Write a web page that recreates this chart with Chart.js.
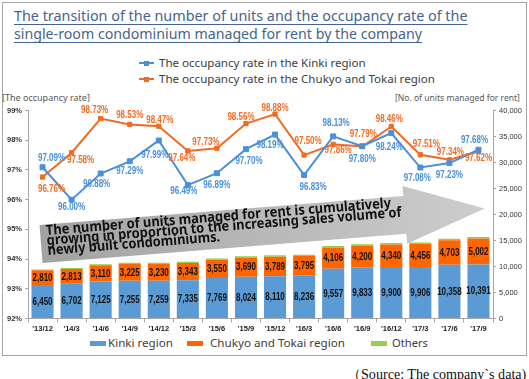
<!DOCTYPE html>
<html>
<head>
<meta charset="utf-8">
<script src="https://cdn.jsdelivr.net/npm/chart.js@4/dist/chart.umd.min.js"></script>
<style>
  body { margin: 0; width: 529px; height: 379px; position: relative; background: #fff; overflow: hidden; font-family: "Noto Sans", sans-serif; }
  .abs { position: absolute; white-space: nowrap; }
  .fit { display: inline-block; }
  #frame { position: absolute; left: 2px; top: 2px; width: 523px; height: 352px; border: 1.5px solid #a6a6a6; }
  .title { color: #46648f; font-size: 15px; line-height: 18px; }
  .title .fit { text-decoration: underline; text-decoration-thickness: 1px; text-underline-offset: 3px; }
  .leg { color: #404040; font-size: 11.5px; line-height: 14px; }
  .axt { color: #595959; font-size: 10px; }
  .sw { position: absolute; }
  #src { font-family: "Liberation Serif", "DejaVu Serif", serif; font-size: 12.5px; color: #111; }
  canvas { position: absolute; left: 0; top: 0; }
</style>
</head>
<body>
<div id="frame"></div>
<div class="abs title" style="left:14px;top:6px"><span class="fit" data-w="454">The transition of the number of units and the occupancy rate of the</span></div>
<div class="abs title" style="left:14px;top:24px"><span class="fit" data-w="408">single-room condominium managed for rent by the company</span></div>

<div class="sw" style="left:139px;top:62px;width:15px;height:2px;background:#4a90d9"></div>
<div class="sw" style="left:144px;top:60.5px;width:5px;height:5px;background:#4a90d9"></div>
<div class="abs leg" style="left:159px;top:56px"><span class="fit" data-w="207">The occupancy rate in the Kinki region</span></div>
<div class="sw" style="left:139px;top:78px;width:15px;height:2px;background:#f26b22"></div>
<div class="sw" style="left:144px;top:76.5px;width:5px;height:5px;background:#f26b22"></div>
<div class="abs leg" style="left:159px;top:72px"><span class="fit" data-w="276">The occupancy rate in the Chukyo and Tokai region</span></div>

<div class="abs axt" style="left:2px;top:90px"><span class="fit" data-w="88">[The occupancy rate]</span></div>
<div class="abs axt" style="left:395px;top:90px"><span class="fit" data-w="125">[No. of units managed for rent]</span></div>

<div class="sw" style="left:90px;top:341px;width:16px;height:5px;background:#5b9bd5"></div>
<div class="abs leg" style="left:108px;top:336px;font-size:12.5px"><span class="fit" data-w="65">Kinki region</span></div>
<div class="sw" style="left:187px;top:341px;width:16px;height:5px;background:#ff6600"></div>
<div class="abs leg" style="left:210px;top:336px;font-size:12.5px"><span class="fit" data-w="135">Chukyo and Tokai region</span></div>
<div class="sw" style="left:371px;top:341px;width:16px;height:5px;background:#92d050"></div>
<div class="abs leg" style="left:392px;top:336px;font-size:12.5px"><span class="fit" data-w="36">Others</span></div>

<div class="abs" id="src" style="left:347px;top:365px"><span class="fit" data-w="180">（Source: The company`s data)</span></div>

<canvas id="chart" width="529" height="379"></canvas>
<script>
// categories and values
const categories = ["'13/12", "'14/3", "'14/6", "'14/9", "'14/12", "'15/3", "'15/6", "'15/9",
                    "'15/12", "'16/3", "'16/6", "'16/9", "'16/12", "'17/3", "'17/6", "'17/9"];
const kinkiUnits = [6450, 6702, 7125, 7255, 7259, 7335, 7769, 8024, 8110, 8236, 9557, 9833, 9900, 9906, 10358, 10391];
const chukyoUnits = [2810, 2813, 3110, 3225, 3230, 3343, 3550, 3690, 3789, 3795, 4106, 4200, 4340, 4456, 4703, 5002];
const otherUnits = [180, 190, 220, 230, 230, 240, 240, 250, 250, 250, 260, 260, 260, 260, 270, 270];
const kinkiRate = [97.09, 96.00, 96.88, 97.29, 97.99, 96.49, 96.89, 97.70, 98.19, 96.83, 98.13, 97.80, 98.24, 97.08, 97.23, 97.68];
const chukyoRate = [96.76, 97.58, 98.73, 98.53, 98.47, 97.64, 97.73, 98.56, 98.88, 97.50, 97.86, 97.79, 98.46, 97.51, 97.34, 97.62];

// where each rate label sits relative to its point (dx, dy)
const kinkiLabelOffset = [[9,-9],[0,8],[-4,11],[0,10],[-4,15],[-4,6],[0,12],[3,12],[-5,11],[9,12],[3,-13],[0,13],[-2,14],[-3,11],[0,12],[-4,-9]];
const chukyoLabelOffset = [[9,12],[9,8],[-6,-8],[0,-9],[1,-6],[-6,7],[-11,-6],[-5,-6],[0,-6],[4,-14],[5,6],[1,-12],[-2,-7],[6,-11],[1,-8],[0,7]];

const arrowText = [
  "The number of units managed for rent is cumulatively",
  "growing in proportion to the increasing sales volume of",
  "newly built condominiums."
];

// squeeze html texts to the widths seen in the reference
document.querySelectorAll(".fit").forEach(el => {
  const target = +el.dataset.w;
  const w = el.getBoundingClientRect().width;
  const fs = parseFloat(getComputedStyle(el).fontSize);
  el.style.fontSize = (fs * target / w).toFixed(2) + "px";
});

const condensedText = (ctx, text, x, y, sx) => {
  ctx.save();
  ctx.translate(x, y);
  ctx.scale(sx, 1);
  ctx.fillText(text, 0, 0);
  ctx.restore();
};

const arrowPlugin = {
  id: "arrow",
  afterDatasetsDraw(chart) {
    const ctx = chart.ctx;
    const ang = Math.atan2(-29, 363);
    ctx.save();
    ctx.translate(39.5, 225);
    ctx.rotate(ang);
    const grad = ctx.createLinearGradient(0, 0, 445, 0);
    grad.addColorStop(0, "#a2a2a2");
    grad.addColorStop(1, "#cdcdcd");
    ctx.fillStyle = grad;
    ctx.beginPath();
    ctx.moveTo(0, 0);
    ctx.lineTo(365, 0);
    ctx.lineTo(365, -10);
    ctx.lineTo(445, 19);
    ctx.lineTo(365, 48);
    ctx.lineTo(365, 38);
    ctx.lineTo(0, 38);
    ctx.closePath();
    ctx.fill();

    ctx.fillStyle = "#111";
    ctx.textAlign = "left";
    ctx.textBaseline = "alphabetic";
    ctx.font = "bold 14px 'Noto Sans', sans-serif";
    const sx = 346 / ctx.measureText(arrowText[0]).width;
    arrowText.forEach((t, i) => condensedText(ctx, t, 6, 10.5 + i * 10, sx));
    ctx.restore();
  }
};

const labelPlugin = {
  id: "valueLabels",
  afterDatasetsDraw(chart) {
    const ctx = chart.ctx;
    ctx.save();
    ctx.textAlign = "center";
    ctx.textBaseline = "middle";
    ctx.font = "bold 10px 'Liberation Sans', Arial, sans-serif";

    // bar segment values
    ctx.fillStyle = "#111";
    [[2, kinkiUnits], [3, chukyoUnits]].forEach(([di, vals]) => {
      chart.getDatasetMeta(di).data.forEach((bar, i) => {
        condensedText(ctx, vals[i].toLocaleString("en-US"), bar.x, (bar.y + bar.base) / 2 + 0.5, 0.8);
      });
    });

    // rate labels
    [[0, kinkiRate, kinkiLabelOffset, "#4a90d9"], [1, chukyoRate, chukyoLabelOffset, "#f26b22"]].forEach(([di, vals, offs, col]) => {
      ctx.fillStyle = col;
      chart.getDatasetMeta(di).data.forEach((pt, i) => {
        condensedText(ctx, vals[i].toFixed(2) + "%", pt.x + offs[i][0], pt.y + offs[i][1], 0.8);
      });
    });
    ctx.restore();
  }
};

const axisColor = "#a6a6a6";

new Chart(document.getElementById("chart"), {
  type: "bar",
  data: {
    labels: categories,
    datasets: [
      {
        type: "line", label: "The occupancy rate in the Kinki region", data: kinkiRate, yAxisID: "yL",
        borderColor: "#4a90d9", backgroundColor: "#4a90d9", borderWidth: 2,
        pointStyle: "rect", pointRadius: 3.5, pointBorderWidth: 1, order: 0
      },
      {
        type: "line", label: "The occupancy rate in the Chukyo and Tokai region", data: chukyoRate, yAxisID: "yL",
        borderColor: "#f26b22", backgroundColor: "#f26b22", borderWidth: 2,
        pointStyle: "rect", pointRadius: 3, pointBorderWidth: 1, order: 0
      },
      { label: "Kinki region", data: kinkiUnits, yAxisID: "yR", stack: "u", backgroundColor: "#5b9bd5", order: 1 },
      { label: "Chukyo and Tokai region", data: chukyoUnits, yAxisID: "yR", stack: "u", backgroundColor: "#ff6600", order: 1 },
      { label: "Others", data: otherUnits, yAxisID: "yR", stack: "u", backgroundColor: "#92d050", order: 1 }
    ]
  },
  options: {
    responsive: false,
    animation: false,
    devicePixelRatio: 1,
    layout: { padding: { top: 110.5, bottom: 42.5, left: 0, right: 0 } },
    datasets: { bar: { categoryPercentage: 0.8, barPercentage: 0.95 } },
    plugins: {
      legend: { display: false },
      tooltip: { enabled: false }
    },
    scales: {
      x: {
        stacked: true,
        afterFit: (s) => { s.height = 18; },
        grid: { drawOnChartArea: false, tickLength: 4, color: axisColor, offset: true },
        border: { color: axisColor },
        ticks: { color: "#222", font: { size: 7.5, weight: "bold", family: "'Liberation Sans', sans-serif" }, maxRotation: 0, autoSkip: false, padding: 2 }
      },
      yL: {
        position: "left", min: 92, max: 99,
        afterFit: (s) => { s.width = 28; },
        grid: { drawOnChartArea: false, tickLength: 3, color: axisColor },
        border: { color: axisColor },
        ticks: { stepSize: 1, color: "#333", padding: 3, font: { size: 7.5, weight: "bold", family: "'Liberation Sans', sans-serif" }, callback: (v) => v + "%" }
      },
      yR: {
        position: "right", min: 0, max: 40000, stacked: true,
        afterFit: (s) => { s.width = 36; },
        grid: { drawOnChartArea: false, tickLength: 3, color: axisColor },
        border: { color: axisColor },
        ticks: { stepSize: 5000, color: "#333", padding: 3, font: { size: 7.5, family: "'Liberation Sans', sans-serif" }, callback: (v) => v.toLocaleString("en-US") }
      }
    }
  },
  plugins: [arrowPlugin, labelPlugin]
});
</script>
</body>
</html>
